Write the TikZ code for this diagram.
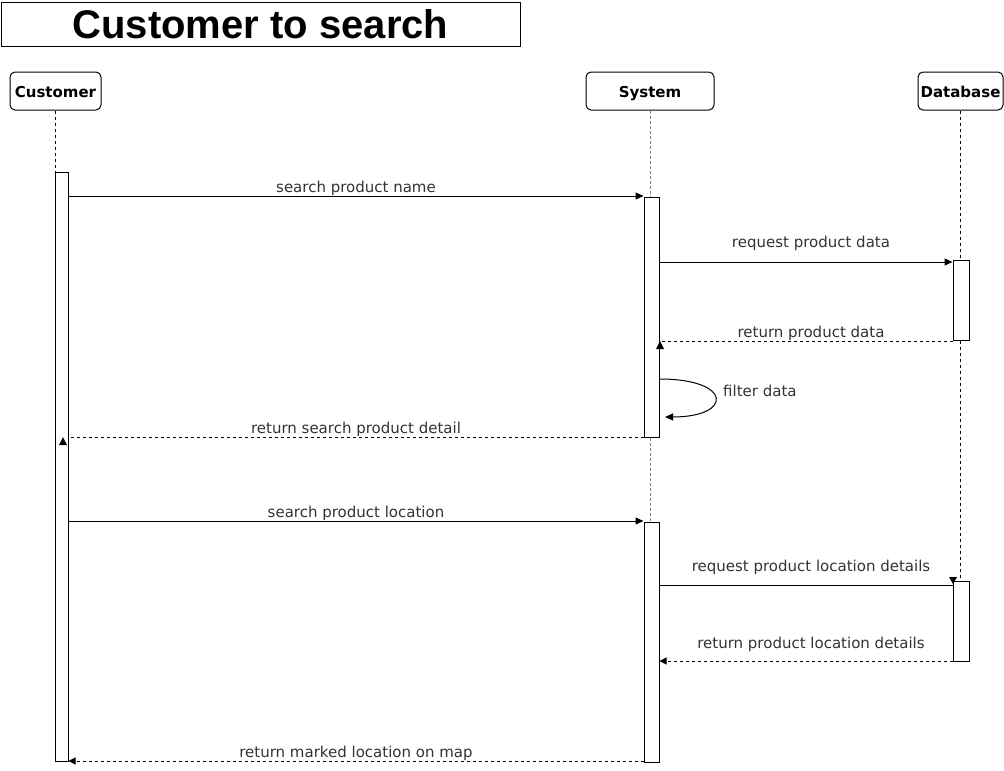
\documentclass[tikz,border=0pt]{standalone}
\usepackage{fontspec}
\setmainfont{DejaVu Sans}
\newfontfamily\titlefont{Liberation Sans}
\usetikzlibrary{arrows.meta,calc}
\tikzset{
  actor/.style={draw, line width=1pt, rounded corners=5pt, minimum height=38pt, inner sep=0pt, text height=12pt, text depth=0pt, font=\bfseries\fontsize{15}{17}\selectfont},
  actbox/.style={draw, line width=1pt, fill=white, inner sep=0pt},
  life/.style={dash pattern=on 3pt off 3pt, line width=0.8pt},
  lifegray/.style={dash pattern=on 3pt off 2pt, line width=1pt, gray},
  msg/.style={line width=1pt, -{Triangle[length=8pt,width=7pt]}},
  ret/.style={line width=1pt, dash pattern=on 3pt off 3pt},
  retarrow/.style={ret, -{Triangle[length=7pt,width=7pt]}},
  lbl/.style={font=\fontsize{15}{17}\selectfont, text=black!80, inner sep=0pt, text height=11pt, text depth=3pt},
  tip/.style={fill=black}
}
\begin{document}
\begin{tikzpicture}[x=1pt,y=-1pt]
\useasboundingbox (0,0) rectangle (1004,771);
% title
\node[draw, line width=1pt, minimum width=519pt, minimum height=44pt, inner sep=0pt,
      font=\titlefont\bfseries\fontsize{40}{44}\selectfont] (title) at (260.5,24) {Customer to search};
% actors
\node[actor, minimum width=91pt] (cust) at (55.5,91) {Customer};
\node[actor, minimum width=128pt] (sys) at (650,91) {System};
\node[actor, minimum width=85pt] (db) at (960.5,91) {Database};
% activations
\node[actbox, minimum width=13pt, minimum height=589pt] (cA) at (61.5,466.5) {};
\node[actbox, minimum width=15pt, minimum height=240pt] (sA1) at (651.5,317) {};
\node[actbox, minimum width=15pt, minimum height=240pt] (sA2) at (651.5,642) {};
\node[actbox, minimum width=16pt, minimum height=80pt] (dA1) at (961,300) {};
\node[actbox, minimum width=16pt, minimum height=80pt] (dA2) at (961,621) {};
% lifelines
\draw[life] (cust.south) -- (cust.south |- cA.north);
\draw[lifegray] (sys.south) -- (sys.south |- sA1.north);
\draw[lifegray] (sys.south |- sA1.south) -- (sys.south |- sA2.north);
\draw[life] (db.south) -- (db.south |- dA1.north);
\draw[life] (db.south |- dA1.south) -- (db.south |- dA2.north);
% message levels
\coordinate (y1) at (0,196);
\coordinate (y2) at (0,262);
\coordinate (y3) at (0,341);
\coordinate (y4a) at (0,379);
\coordinate (y4b) at (0,417);
\coordinate (y5) at (0,437);
\coordinate (y6) at (0,521);
\coordinate (y7) at (0,585);
\coordinate (y8) at (0,661);
\coordinate (y9) at (0,761);
% messages
\draw[msg] (cA.east |- y1) -- node[lbl, yshift=8pt] {search product name} (sA1.west |- y1);
\draw[msg] (sA1.east |- y2) -- node[lbl, yshift=19pt, xshift=5pt] {request product data} (dA1.west |- y2);
\draw[ret] (dA1.west |- y3) -- node[lbl, yshift=8pt, xshift=5pt] {return product data} (sA1.east |- y3);
\fill[tip] (660,341) -- (656,349) -- (664,349) -- cycle;
\draw[line width=1pt, -{Triangle[length=8pt,width=7pt]}] (sA1.east |- y4a) .. controls (733,379) and (733,417) .. (665,417);
\node[lbl, anchor=west] (filt) at (723,392) {filter data};
\draw[ret] (sA1.west |- y5) -- node[lbl, yshift=8pt] {return search product detail} (cA.east |- y5);
\fill[tip] (63,437) -- (59,445) -- (67,445) -- cycle;
\draw[msg] (cA.east |- y6) -- node[lbl, yshift=8pt] {search product location} (sA2.west |- y6);
\draw[line width=1pt] (sA2.east |- y7) -- node[lbl, yshift=18pt, xshift=5pt] {request product location details} (dA2.north west |- y7);
\fill[tip] (953,584) -- (949,577) -- (957,577) -- cycle;
\draw[retarrow] (dA2.west |- y8) -- node[lbl, yshift=17pt, xshift=5pt] {return product location details} (sA2.east |- y8);
\draw[retarrow] (sA2.west |- y9) -- node[lbl, yshift=8pt] {return marked location on map} (cA.east |- y9);
\end{tikzpicture}
\end{document}
